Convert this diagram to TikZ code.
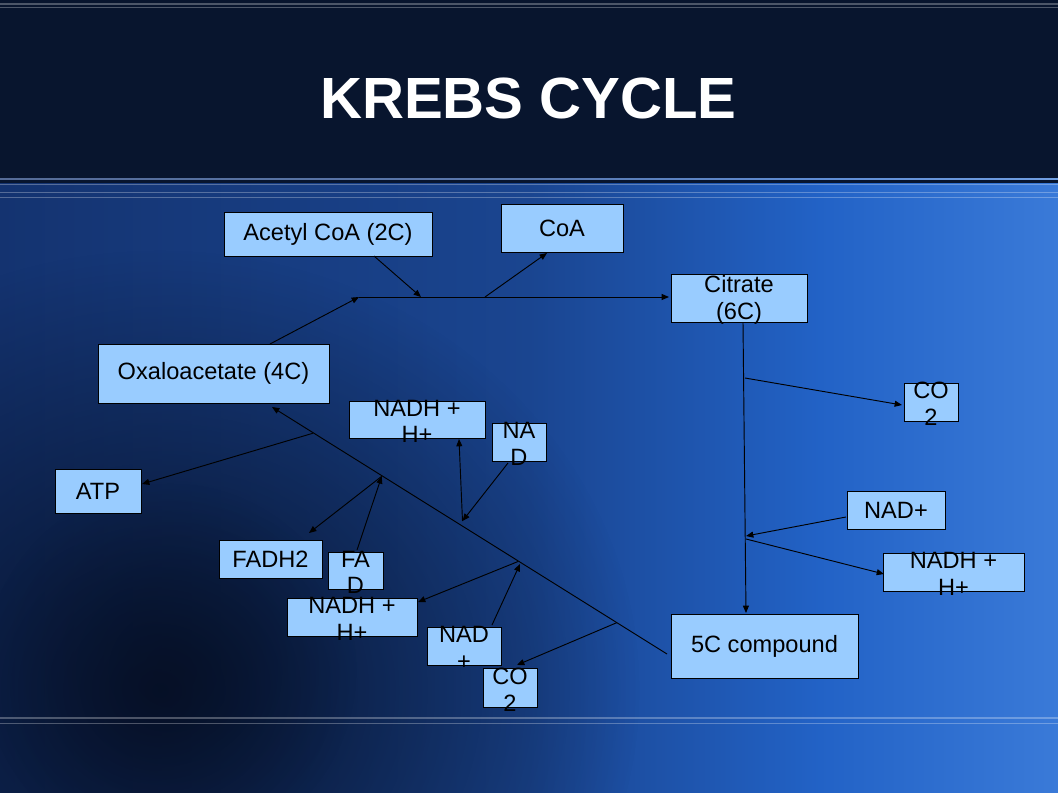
\documentclass[tikz,border=0pt]{standalone}
\usepackage{fontspec}
\setmainfont{Liberation Sans}
\usetikzlibrary{arrows.meta,fit,fadings}
\definecolor{boxfill}{HTML}{99CCFF}
\definecolor{hdr}{HTML}{08152E}
\definecolor{bgA}{HTML}{143370}
\definecolor{bgB}{HTML}{1A4590}
\definecolor{bgC}{HTML}{2262C6}
\definecolor{bgD}{HTML}{3A7AD8}
\definecolor{blob}{HTML}{050E22}
\tikzfading[name=softblob, inner color=transparent!0, outer color=transparent!100]
\begin{document}
\begin{tikzpicture}[x=0.75pt,y=-0.75pt,
  box/.style={draw=black, line width=0.6pt, fill=boxfill, inner sep=0pt},
  lbl/.style={font=\fontsize{17.7}{20}\selectfont, align=center, inner sep=0pt, text=black},
  lbltwo/.style={lbl, yshift=-1.5pt},
  conn/.style={draw=black, line width=0.7pt, -{Triangle[length=5.5pt,width=4.5pt]}},
  hline/.style={draw=white, draw opacity=0.28, line width=0.9pt}]
\useasboundingbox (0,0) rectangle (1058,793);
% background
\shade[left color=bgA, right color=bgB] (0,0) rectangle (530,793);
\shade[left color=bgB, right color=bgC] (529,0) rectangle (820,793);
\shade[left color=bgC, right color=bgD] (819,0) rectangle (1058,793);
\fill[blob, fill opacity=0.9, path fading=softblob] (160,690) ellipse (360pt and 330pt);
\fill[blob, fill opacity=0.5, path fading=softblob] (170,670) circle (140pt);
% header
\fill[hdr] (0,0) rectangle (1058,178);
\draw[hline] (0,4) -- (1058,4);
\draw[hline] (0,7.5) -- (1058,7.5);
\fill[hdr] (0,180) rectangle (1058,183);
\draw[hline] (0,179) -- (1058,179);
\draw[hline] (0,184.5) -- (1058,184.5);
\draw[hline] (0,192.8) -- (1058,192.8);
\draw[hline] (0,197.5) -- (1058,197.5);
\draw[hline] (0,718) -- (1058,718);
\draw[hline] (0,723.5) -- (1058,723.5);
\node[font=\fontsize{43.6}{50}\selectfont\bfseries, text=white, inner sep=0pt] (title) at (528.5,98) {KREBS CYCLE};
% boxes
\node[box, fit={(224,212) (432,256)}] (acetyl) {};
\node[lbl] (acetylT) at (acetyl) {Acetyl CoA (2C)};
\node[box, fit={(501,204) (623,252)}] (coa) {};
\node[lbl] (coaT) at (coa) {CoA};
\node[box, fit={(671,274) (807,322)}] (citrate) {};
\node[lbltwo] (citrateT) at (citrate) {Citrate\\(6C)};
\node[box, fit={(98,344) (329,403)}] (oxa) {};
\node[lbl] (oxaT) at (oxa) {Oxaloacetate (4C)};
\node[box, fit={(904,383) (958,421)}] (co2a) {};
\node[lbltwo] (co2aT) at (co2a) {CO\\2};
\node[box, fit={(349,401) (485,438)}] (nadhA) {};
\node[lbltwo] (nadhAT) at (nadhA) {NADH +\\H+};
\node[box, fit={(492,423) (546,461)}] (nadA) {};
\node[lbltwo] (nadAT) at (nadA) {NA\\D};
\node[box, fit={(55,469) (141,513)}] (atp) {};
\node[lbl] (atpT) at (atp) {ATP};
\node[box, fit={(847,491) (945,529)}] (nadp) {};
\node[lbl] (nadpT) at (nadp) {NAD+};
\node[box, fit={(219,540) (322,578)}] (fadh) {};
\node[lbl] (fadhT) at (fadh) {FADH2};
\node[box, fit={(328,552) (383,589)}] (fad) {};
\node[lbltwo] (fadT) at (fad) {FA\\D};
\node[box, fit={(883,553) (1024,591)}] (nadhB) {};
\node[lbltwo] (nadhBT) at (nadhB) {NADH +\\H+};
\node[box, fit={(287,598) (417,636)}] (nadhC) {};
\node[lbltwo] (nadhCT) at (nadhC) {NADH +\\H+};
\node[box, fit={(671,614) (858,678)}] (fivec) {};
\node[lbl] (fivecT) at (fivec) {5C compound};
\node[box, fit={(427,627) (501,665)}] (nadB) {};
\node[lbltwo] (nadBT) at (nadB) {NAD\\+};
\node[box, fit={(483,668) (537,707)}] (co2b) {};
\node[lbltwo] (co2bT) at (co2b) {CO\\2};
% coordinates
\coordinate (hl) at (359,297);
\coordinate (ha) at (421,297);
\coordinate (hc) at (485,297);
\coordinate (oxTop) at (270,344);
\coordinate (acBot) at (374,256);
\coordinate (coaBot) at (547,253);
\coordinate (citIn) at (669,297);
\coordinate (citBot) at (743,322);
\coordinate (fiveTop) at (746,613);
\coordinate (b1) at (745,378);
\coordinate (co2aIn) at (902,405);
\coordinate (nadpOut) at (846,517);
\coordinate (b2) at (746,536);
\coordinate (b3) at (746,539);
\coordinate (nadhBIn) at (884,574);
\coordinate (m0) at (667,654);
\coordinate (oxBot) at (272,407);
\coordinate (pAtp) at (312.7,433.3);
\coordinate (atpIn) at (142,484);
\coordinate (pFad) at (381.7,476.3);
\coordinate (fadOut) at (357,550);
\coordinate (fadhIn) at (309,533);
\coordinate (pNad) at (462.5,521);
\coordinate (nadAOut) at (508,463);
\coordinate (nadhAIn) at (459,439);
\coordinate (pLow) at (518.3,561.4);
\coordinate (nadBOut) at (492,625);
\coordinate (nadBTip) at (520,564);
\coordinate (nadhCIn) at (418,602);
\coordinate (pCo2) at (616.7,622.7);
\coordinate (co2bIn) at (517,665);
% connectors
\draw[conn] (oxTop) -- (hl);
\draw[conn] (hl) -- (citIn);
\draw[conn] (acBot) -- (ha);
\draw[conn] (hc) -- (coaBot);
\draw[conn] (citBot) -- (fiveTop);
\draw[conn] (b1) -- (co2aIn);
\draw[conn] (nadpOut) -- (b2);
\draw[conn] (b3) -- (nadhBIn);
\draw[conn] (m0) -- (oxBot);
\draw[conn] (pAtp) -- (atpIn);
\draw[conn] (fadOut) -- (pFad);
\draw[conn] (pFad) -- (fadhIn);
\draw[conn] (nadAOut) -- (pNad);
\draw[conn] (pNad) -- (nadhAIn);
\draw[conn] (nadBOut) -- (nadBTip);
\draw[conn] (pLow) -- (nadhCIn);
\draw[conn] (pCo2) -- (co2bIn);
\end{tikzpicture}
\end{document}
